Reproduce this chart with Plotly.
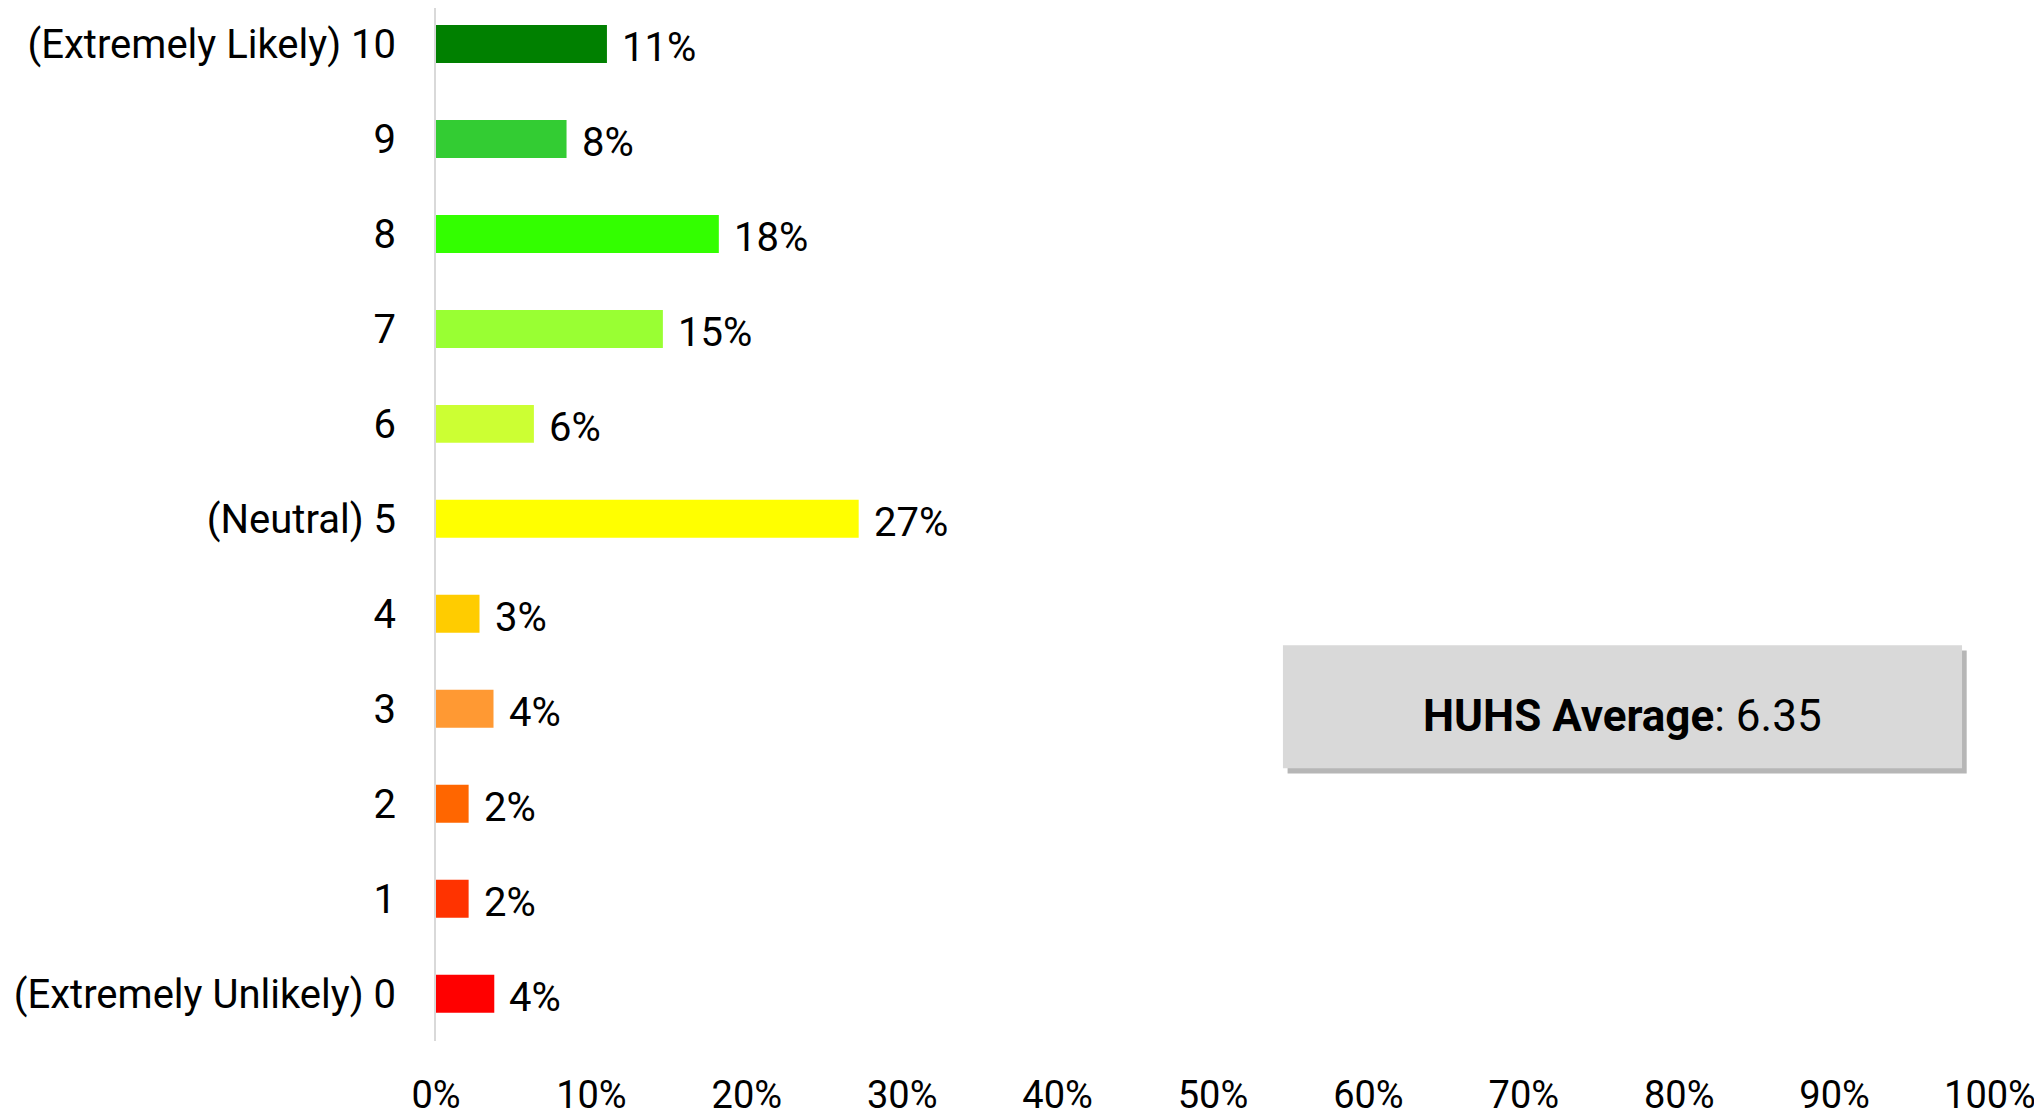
import plotly.graph_objects as go

# likelihood ratings, bottom to top
categories = ["(Extremely Unlikely) 0", "1", "2", "3", "4", "(Neutral) 5",
              "6", "7", "8", "9", "(Extremely Likely) 10"]
shares = [3.75, 2.1, 2.1, 3.7, 2.8, 27.2, 6.3, 14.6, 18.2, 8.4, 11.0]
colors = ["#ff0000", "#ff3300", "#ff6600", "#ff9933", "#ffcc00", "#ffff00",
          "#ccff33", "#99ff33", "#33ff00", "#33cc33", "#008000"]
x_ticks = list(range(0, 101, 10))
avg_label = "<b>HUHS Average</b>: 6.35"

FONT = "Roboto, sans-serif"

fig = go.Figure(go.Bar(
    y=categories,
    x=shares,
    orientation="h",
    marker=dict(color=colors, line=dict(width=0)),
    hoverinfo="x+y",
))

# value labels to the right of each bar
for cat, val in zip(categories, shares):
    fig.add_annotation(x=val, y=cat, text=f"{round(val)}%", showarrow=False,
                       xanchor="left", xshift=13, yshift=-4,
                       font=dict(size=40, color="black", family=FONT))

# average box with a soft shadow
bx0, bx1, by0, by1 = 54.5, 98.2, 0.264, 0.383
fig.add_shape(type="rect", xref="x", yref="paper", x0=bx0 + 0.3, x1=bx1 + 0.3,
              y0=by0 - 0.005, y1=by1 - 0.005,
              fillcolor="rgba(110,110,110,0.5)", line=dict(width=0), layer="below")
fig.add_shape(type="rect", xref="x", yref="paper", x0=bx0, x1=bx1, y0=by0, y1=by1,
              fillcolor="#d9d9d9", line=dict(width=0), layer="above")
fig.add_annotation(xref="x", yref="paper", x=(bx0 + bx1) / 2, y=(by0 + by1) / 2,
                   text=avg_label, showarrow=False, xanchor="center", yanchor="middle",
                   yshift=-9, font=dict(size=44, color="black", family=FONT))

fig.update_layout(
    width=2034, height=1111,
    margin=dict(l=428, r=52, t=0, b=78),
    paper_bgcolor="white", plot_bgcolor="white",
    bargap=0.6,
    showlegend=False,
    font=dict(family=FONT, size=40, color="black"),
    xaxis=dict(range=[0, 100], tickvals=x_ticks, ticktext=[f"{t}%" for t in x_ticks],
               showgrid=False, zeroline=False, showline=False, ticks="", automargin=False,
               ticklabelstandoff=28, tickfont=dict(size=38, color="black")),
    yaxis=dict(type="category", range=[-0.498, 10.379], showgrid=False, zeroline=False,
               showline=True, linecolor="#d9d9d9", linewidth=2, ticks="", automargin=False,
               ticklabelstandoff=30, tickfont=dict(size=40, color="black")),
)

fig.write_html("out.html")
